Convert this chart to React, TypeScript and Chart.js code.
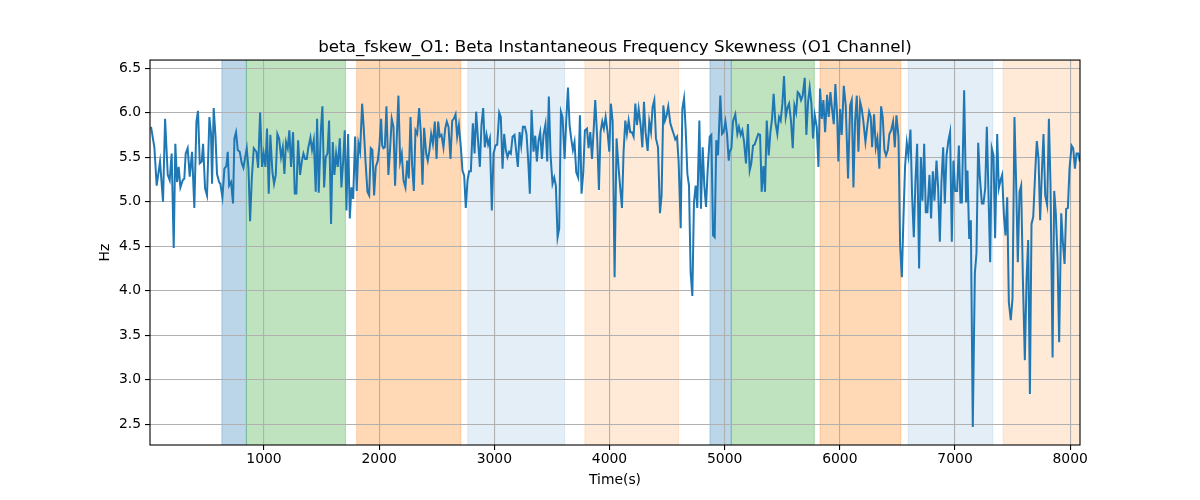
import { useEffect, useRef } from "react"
import { Chart, registerables } from "chart.js"

Chart.register(...registerables)

// Time (s) of each sample
const timeSec = [
  19, 48, 68, 97, 123, 141, 164, 181, 198, 216, 230, 245, 259, 274, 294, 308, 320, 337, 355, 375,
  395, 413, 427, 442, 459, 471, 488, 505, 526, 540, 549, 563, 578, 592, 610, 621, 639, 656, 673, 685,
  697, 714, 731, 743, 757, 772, 789, 807, 821, 839, 850, 865, 879, 894, 911, 934, 949, 966, 983,
  997, 1012, 1026, 1041, 1055, 1073, 1087, 1102, 1116, 1131, 1148, 1163, 1177, 1191, 1206,
  1220, 1235, 1252, 1267, 1281, 1296, 1313, 1328, 1342, 1357, 1371, 1385, 1403, 1417, 1432,
  1449, 1461, 1475, 1493, 1507, 1522, 1536, 1551, 1565, 1582, 1597, 1611, 1626, 1640, 1658,
  1672, 1687, 1701, 1716, 1730, 1745, 1759, 1774, 1791, 1805, 1820, 1834, 1852, 1866, 1881,
  1898, 1913, 1927, 1941, 1956, 1970, 1988, 2002, 2017,
  2026, 2037, 2049, 2063, 2080, 2095, 2109, 2124, 2138, 2153, 2167, 2182, 2196, 2211, 2228,
  2243, 2257, 2272, 2286, 2301, 2315, 2330, 2347, 2361, 2376, 2390, 2408, 2422, 2437, 2451,
  2466, 2483, 2498, 2512, 2526, 2541, 2558, 2573, 2587, 2602, 2619, 2634, 2648, 2663, 2677,
  2692, 2709, 2723, 2738, 2752, 2767, 2781, 2796, 2813, 2828, 2842, 2857, 2874, 2888, 2903,
  2917, 2932, 2946, 2961, 2978, 2993, 3010, 3025,
  3042, 3056, 3071, 3085, 3100, 3114, 3129, 3143, 3158, 3175, 3190, 3204, 3219, 3233, 3248,
  3265, 3279, 3294, 3308, 3323, 3340, 3355, 3369, 3384, 3398, 3413, 3427, 3444, 3459, 3473,
  3488, 3505, 3520, 3534, 3549, 3563, 3578, 3592, 3610, 3624, 3639, 3653, 3667, 3682, 3696,
  3711, 3728, 3743, 3757, 3772, 3786, 3804, 3818, 3833, 3848, 3862, 3876, 3893, 3908, 3922,
  3937, 3951, 3966, 3983, 3998, 4012, 4027,
  4044, 4061, 4079, 4093, 4108, 4122, 4137, 4151, 4166, 4180, 4195, 4209, 4224, 4238, 4253,
  4270, 4285, 4299, 4313, 4331, 4345, 4360, 4374, 4389, 4403, 4421, 4438, 4452, 4467, 4481,
  4496, 4510, 4528, 4542, 4557, 4571, 4586, 4600, 4618, 4632, 4647, 4661, 4676, 4690, 4704,
  4719, 4733, 4748, 4762, 4780, 4794, 4809, 4823, 4838, 4852, 4870, 4884, 4899, 4913, 4927,
  4942, 4962, 4977, 4991, 5006, 5020, 5035,
  5043, 5058, 5072, 5092, 5110, 5124, 5139, 5153, 5168, 5185, 5202, 5217, 5231, 5246, 5260,
  5278, 5292, 5307, 5321, 5336, 5350, 5365, 5382, 5397, 5411, 5425, 5440, 5457, 5472, 5486,
  5501, 5515, 5530, 5544, 5559, 5576, 5591, 5605, 5620, 5634, 5648, 5663, 5677, 5695, 5709,
  5724, 5738, 5753, 5767, 5782, 5799, 5814, 5828, 5843, 5857, 5872, 5889, 5903, 5918, 5932,
  5947, 5961, 5976, 5987, 6002, 6016, 6034,
  6051, 6071, 6089, 6103, 6118, 6132, 6147, 6161, 6176, 6190, 6204, 6222, 6239, 6254, 6268,
  6280, 6297, 6312, 6326, 6343, 6358, 6372, 6387, 6401, 6416, 6430, 6445, 6462, 6477, 6491,
  6509, 6523, 6538, 6552, 6566, 6581, 6595, 6613, 6627, 6642, 6656, 6671, 6688, 6703, 6717,
  6732, 6746, 6760, 6778, 6792, 6807, 6821, 6839, 6853, 6868, 6882, 6897, 6911, 6926, 6943,
  6957, 6972, 6986, 7001, 7018, 7033, 7047,
  7059, 7079, 7096, 7108, 7123, 7137, 7154, 7172, 7186, 7201, 7215, 7233, 7247, 7262, 7276,
  7290, 7305, 7319, 7334, 7348, 7366, 7380, 7395, 7409, 7424, 7438, 7453, 7467, 7484, 7499,
  7516, 7531, 7545, 7560, 7574, 7589, 7606, 7621, 7635, 7650, 7664, 7679, 7696, 7710, 7725,
  7739, 7754, 7768, 7783, 7800, 7815, 7829, 7847, 7861, 7875, 7890, 7904, 7922, 7936, 7951,
  7965, 7980, 7994, 8012, 8026, 8041, 8055, 8070, 8084,
]

// Beta instantaneous frequency skewness (Hz)
const skewHz = [
  5.84, 5.61, 5.18, 5.45, 5.0, 5.93, 5.3, 5.24, 5.54, 4.48, 5.65, 5.22, 5.39, 5.16, 5.24, 5.26, 5.54, 5.6, 5.28, 5.56,
  4.93, 5.9, 6.02, 5.43, 5.45, 5.65, 5.15, 5.07, 5.95, 5.76, 5.2, 6.05, 5.75, 5.31, 5.22, 5.2, 5.05, 5.37, 5.4, 5.56,
  5.18, 5.22, 4.98, 5.71, 5.78, 5.58, 5.56, 5.43, 5.38, 5.52, 5.6, 5.37, 4.78, 5.26, 5.6, 5.56, 5.38, 6.0, 5.39,
  5.54, 5.39, 5.82, 5.09, 5.75, 5.33, 5.2, 5.3, 5.76, 5.71, 5.5, 5.61, 5.31, 5.67, 5.6,
  5.8, 5.39, 5.78, 5.09, 5.09, 5.69, 5.3, 5.45, 5.54, 5.48, 5.48, 5.61, 5.72, 5.58, 5.69,
  5.11, 5.93, 5.1, 5.78, 6.07, 5.16, 5.5, 5.54, 5.91, 4.75, 5.67, 5.3, 5.54, 5.39, 5.71,
  5.16, 5.45, 5.8, 4.9, 5.76, 4.81, 5.16, 5.03, 5.73, 5.12, 5.65, 5.56, 6.1, 5.82, 5.46,
  5.11, 5.07, 5.6, 5.58, 5.07, 5.39, 5.46, 5.63, 5.93,
  5.63, 5.6, 5.61, 6.07, 5.3, 5.6, 5.93, 5.84, 5.18, 5.73, 6.19, 5.45, 5.54, 5.24, 5.16,
  5.46, 5.26, 5.95, 5.41, 5.12, 5.8, 5.76, 6.05, 5.78, 5.19, 5.83, 5.54, 5.46, 5.58, 5.76,
  5.65, 5.9, 5.48, 5.9, 5.73, 5.75, 5.61, 5.82, 5.9, 5.84, 5.48, 5.91, 5.93, 5.98, 5.73,
  5.86, 5.61, 5.35, 5.29, 4.93, 5.24, 5.34, 5.34, 5.88, 5.54, 6.01, 5.71, 5.39, 5.86, 6.05,
  5.61, 5.75, 5.64, 5.71, 4.9, 5.54, 5.63, 5.64,
  6.0, 5.95, 5.37, 5.76, 5.58, 5.5, 5.56, 5.54, 5.73, 5.75, 5.56, 5.39, 5.78, 5.63, 5.84,
  5.84, 5.76, 5.46, 5.09, 6.03, 5.56, 5.74, 5.45, 5.69, 5.78, 5.48, 5.75, 5.87, 5.45, 6.18,
  5.52, 5.2, 5.27, 5.18, 4.6, 4.7, 6.01, 5.95, 5.48, 5.91, 6.28, 5.86, 5.71, 5.58, 5.67,
  5.33, 5.27, 5.97, 5.09, 5.33, 5.8, 5.82, 5.6, 5.78, 5.48, 5.8, 6.14, 5.71, 5.13, 5.78,
  5.9, 5.82, 5.95, 5.78, 5.56, 6.1, 5.9,
  4.15, 5.71, 5.37, 5.15, 4.93, 5.56, 5.91, 5.76, 5.91, 5.78, 5.78, 5.73, 6.1, 5.86, 6.04,
  5.86, 5.61, 6.12, 5.78, 5.57, 5.9, 5.78, 6.06, 6.14, 5.71, 5.61, 4.87, 5.07, 6.08, 5.91,
  5.97, 6.07, 5.88, 5.82, 5.76, 5.7, 5.73, 5.45, 4.7, 6.04, 6.16, 5.82, 5.31, 5.18, 4.21,
  3.94, 4.99, 5.18, 4.93, 5.91, 4.92, 5.61, 5.18, 4.94, 5.35, 5.73, 5.75, 4.62, 4.6, 5.69,
  5.52, 6.19, 5.76, 5.78, 5.9, 5.76, 5.46,
  5.56, 5.6, 5.9, 5.98, 5.76, 5.84, 5.75, 5.8, 5.67, 5.43, 5.87, 5.35, 5.43, 5.63, 5.64,
  5.71, 5.76, 5.75, 5.11, 5.4, 5.11, 5.91, 5.52, 5.78, 5.93, 6.21, 5.89, 5.76, 5.95, 5.91,
  6.1, 6.41, 5.95, 6.05, 6.1, 5.9, 5.6, 6.08, 6.0, 6.23, 6.21, 6.14, 6.19, 6.39, 5.75,
  6.12, 6.28, 6.1, 5.71, 5.97, 5.84, 5.39, 6.27, 5.93, 6.14, 5.78, 6.2, 5.95, 6.23, 6.04,
  5.87, 6.32, 5.97, 5.45, 6.04, 5.75, 6.3,
  6.08, 5.26, 6.08, 6.14, 5.16, 5.9, 6.19, 5.56, 6.12, 6.04, 5.9, 5.67, 5.86, 6.01, 5.95,
  5.61, 5.98, 5.61, 5.71, 5.37, 6.07, 5.95, 5.58, 5.52, 5.58, 5.76, 5.8, 5.9, 5.61, 5.97,
  5.73, 4.51, 4.15, 4.81, 5.39, 5.66, 5.52, 5.81, 5.07, 4.6, 5.22, 5.65, 4.25, 5.5, 5.01,
  5.65, 4.88, 4.88, 5.3, 4.81, 5.34, 5.01, 5.46, 5.16, 4.55, 5.22, 5.61, 4.98, 5.52, 5.69,
  5.78, 4.55, 5.46, 5.12, 5.12, 5.63, 4.99,
  4.99, 6.25, 4.99, 5.35, 4.58, 4.79, 2.47, 4.19, 4.42, 5.66, 5.28, 4.98, 4.98, 5.15, 5.84,
  5.11, 4.32, 5.6, 5.52, 4.59, 5.76, 5.15, 5.24, 5.3, 4.85, 4.62, 5.05, 3.87, 3.67, 3.91,
  5.95, 5.18, 4.32, 5.11, 5.18, 4.13, 3.22, 4.13, 4.57, 2.84, 4.75, 4.83, 5.33, 5.68, 5.48,
  4.79, 5.33, 5.76, 5.07, 4.96, 5.93, 5.18, 3.25, 5.12, 4.87, 4.36, 3.42, 4.87, 4.55, 4.3,
  4.92, 4.93, 5.37, 5.63, 5.6, 5.37, 5.54, 5.54, 5.45,
]

// Shaded segments (s)
const bandStarts = [634, 847, 1805, 2770, 3786, 4872, 5057, 5828, 6593, 7418]
const bandEnds = [847, 1707, 2709, 3610, 4600, 5057, 5778, 6529, 7328, 8090]
const bandKinds = ["blue", "green", "orange", "paleBlue", "paleOrange", "blue", "green", "orange", "paleBlue", "paleOrange"]

const xTicks = [1000, 2000, 3000, 4000, 5000, 6000, 7000, 8000]
const yTicks = [2.5, 3.0, 3.5, 4.0, 4.5, 5.0, 5.5, 6.0, 6.5]

const bandColors: Record<string, string> = {
  blue: "rgba(31, 119, 180, 0.3)",
  green: "rgba(44, 160, 44, 0.3)",
  orange: "rgba(255, 127, 14, 0.3)",
  paleBlue: "rgba(31, 119, 180, 0.12)",
  paleOrange: "rgba(255, 127, 14, 0.16)",
}

const bandsPlugin = {
  id: "bands",
  beforeDraw(chart: any) {
    const { ctx, chartArea } = chart
    const xScale = chart.scales.x
    ctx.save()
    ctx.beginPath()
    ctx.rect(chartArea.left, chartArea.top, chartArea.right - chartArea.left, chartArea.bottom - chartArea.top)
    ctx.clip()
    bandStarts.forEach((start, i) => {
      const x0 = xScale.getPixelForValue(start)
      const x1 = xScale.getPixelForValue(bandEnds[i])
      const color = bandColors[bandKinds[i]]
      ctx.fillStyle = color
      ctx.fillRect(x0, chartArea.top, x1 - x0, chartArea.bottom - chartArea.top)
      ctx.strokeStyle = color
      ctx.lineWidth = 1
      ctx.beginPath()
      ctx.moveTo(x0, chartArea.top)
      ctx.lineTo(x0, chartArea.bottom)
      ctx.moveTo(x1, chartArea.top)
      ctx.lineTo(x1, chartArea.bottom)
      ctx.stroke()
    })
    ctx.restore()
  },
  afterDraw(chart: any) {
    const { ctx, chartArea } = chart
    ctx.save()
    ctx.strokeStyle = "#000"
    ctx.lineWidth = 1.1
    ctx.strokeRect(chartArea.left, chartArea.top, chartArea.right - chartArea.left, chartArea.bottom - chartArea.top)
    ctx.restore()
  },
}

export default function App() {
  const chartRef = useRef<HTMLCanvasElement>(null)
  const chartInstance = useRef<Chart | null>(null)

  useEffect(() => {
    if (!chartRef.current) return
    if (chartInstance.current) chartInstance.current.destroy()

    Chart.defaults.font.family = "'DejaVu Sans', sans-serif"
    Chart.defaults.color = "#000"

    const points = timeSec.map((t, i) => ({ x: t, y: skewHz[i] }))

    chartInstance.current = new Chart(chartRef.current, {
      type: "line",
      data: {
        datasets: [
          {
            data: points,
            borderColor: "#1f77b4",
            borderWidth: 2,
            pointRadius: 0,
            tension: 0,
            fill: false,
          },
        ],
      },
      options: {
        animation: false,
        responsive: true,
        maintainAspectRatio: false,
        layout: { padding: { left: 0, right: 120, top: 0, bottom: 0 } },
        plugins: {
          legend: { display: false },
          tooltip: { enabled: false },
          title: {
            display: true,
            fullSize: false,
            text: "beta_fskew_O1: Beta Instantaneous Frequency Skewness (O1 Channel)",
            color: "#000",
            font: { size: 16.7, weight: "normal" },
            padding: { top: 38, bottom: 2 },
          },
        },
        scales: {
          x: {
            type: "linear",
            min: 10,
            max: 8085,
            afterBuildTicks: (scale: any) => {
              scale.ticks = xTicks.map((v) => ({ value: v }))
            },
            afterFit: (scale: any) => {
              scale.height = 55
            },
            ticks: {
              color: "#000",
              font: { size: 13.9 },
              padding: 1,
              maxRotation: 0,
              callback: (v: any) => String(v),
            },
            grid: {
              color: "#b0b0b0",
              lineWidth: 1.1,
              tickColor: "#000",
              tickLength: 5,
              tickWidth: 1.1,
            },
            border: { display: false },
            title: {
              display: true,
              text: "Time(s)",
              color: "#000",
              font: { size: 13.9 },
              padding: { top: 0, bottom: 11 },
            },
          },
          y: {
            type: "linear",
            min: 2.267,
            max: 6.59,
            afterBuildTicks: (scale: any) => {
              scale.ticks = yTicks.map((v) => ({ value: v }))
            },
            afterFit: (scale: any) => {
              scale.width = 150
            },
            ticks: {
              color: "#000",
              font: { size: 13.9 },
              padding: 4,
              callback: (v: any) => Number(v).toFixed(1),
            },
            grid: {
              color: "#b0b0b0",
              lineWidth: 1.1,
              tickColor: "#000",
              tickLength: 5,
              tickWidth: 1.1,
            },
            border: { display: false },
            title: {
              display: true,
              text: "Hz",
              color: "#000",
              font: { size: 13.9 },
              padding: { top: 97, bottom: 0 },
            },
          },
        },
      },
      plugins: [bandsPlugin],
    })

    return () => {
      if (chartInstance.current) {
        chartInstance.current.destroy()
        chartInstance.current = null
      }
    }
  }, [])

  return (
    <div style={{ position: "absolute", left: 0, top: 0, width: 1200, height: 500, background: "#fff" }}>
      <canvas ref={chartRef}></canvas>
    </div>
  )
}
